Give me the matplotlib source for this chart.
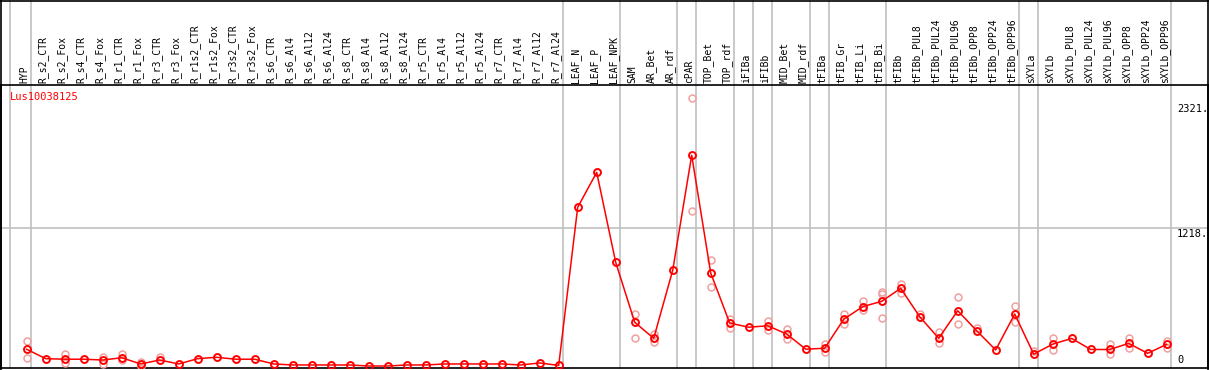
import matplotlib
matplotlib.use('Agg')
import matplotlib.pyplot as plt
from matplotlib.lines import Line2D

# ── data ────────────────────────────────────────────────────
samples = [
    "HYP", "R_s2_CTR", "R_s2_Fox", "R_s4_CTR", "R_s4_Fox", "R_r1_CTR", "R_r1_Fox",
    "R_r3_CTR", "R_r3_Fox", "R_r1s2_CTR", "R_r1s2_Fox", "R_r3s2_CTR", "R_r3s2_Fox",
    "R_s6_CTR", "R_s6_Al4", "R_s6_Al12", "R_s6_Al24", "R_s8_CTR", "R_s8_Al4",
    "R_s8_Al12", "R_s8_Al24", "R_r5_CTR", "R_r5_Al4", "R_r5_Al12", "R_r5_Al24",
    "R_r7_CTR", "R_r7_Al4", "R_r7_Al12", "R_r7_Al24", "LEAF_N", "LEAF_P", "LEAF_NPK",
    "SAM", "AR_Bet", "AR_rdf", "cPAR", "TOP_Bet", "TOP_rdf", "iFIBa", "iFIBb",
    "MID_Bet", "MID_rdf", "tFIBa", "tFIB_Gr", "tFIB_Li", "tFIB_Bi", "tFIBb",
    "tFIBb_PUL8", "tFIBb_PUL24", "tFIBb_PUL96", "tFIBb_OPP8", "tFIBb_OPP24",
    "tFIBb_OPP96", "sXYLa", "sXYLb", "sXYLb_PUL8", "sXYLb_PUL24", "sXYLb_PUL96",
    "sXYLb_OPP8", "sXYLb_OPP24", "sXYLb_OPP96",
]

mean_expr = [
    148, 65, 60, 60, 53, 73, 18, 53, 18, 65, 77, 60, 60,
    18, 9, 9, 9, 9, 0, 0, 9, 9, 18, 18, 18, 18, 9, 27, 5,
    1404, 1713, 917, 387, 245, 846, 1864, 823, 380, 343, 356,
    283, 149, 157, 413, 525, 572, 687, 436, 245, 489, 312, 142,
    460, 105, 193, 244, 146, 146, 200, 112, 192,
]

# replicate values (only those visible apart from the mean)
replicates = [
    [225, 68], [], [103, 24], [], [82, 18], [103, 50], [38, 0],
    [77], [], [], [], [], [],
    [], [], [], [], [], [], [], [], [], [], [], [], [], [], [], [],
    [], [], [], [457, 245], [283, 215], [], [2368, 1371], [935, 699], [420, 339], [], [398, 318],
    [325, 236], [], [192, 121], [460, 369], [575, 495], [652, 634, 422], [725, 643],
    [460], [298, 201], [608, 369], [333], [], [531, 392],
    [133], [248, 138], [], [], [195, 103], [250, 155], [], [225, 157],
]

group_ends = [0, 28, 31, 34, 35, 37, 38, 39, 41, 42, 45, 52, 53, 60]
y_ticks = [0, 1218, 2321]

# ── figure ──────────────────────────────────────────────────
W, H = 1209, 370
fig = plt.figure(figsize=(W / 100, H / 100), dpi=100)
ax_left, ax_right, ax_top, ax_bot = 1, 1208, 85, 368
ax = fig.add_axes([ax_left / W, (H - ax_bot) / H,
                   (ax_right - ax_left) / W, (ax_bot - ax_top) / H])

x0, dx = 26.7, 19.0
ax.set_xlim((ax_left - x0) / dx, (ax_right - x0) / dx)
y_zero, y_scale = 366.0, 0.11305
ax.set_ylim((y_zero - ax_bot) / y_scale, (y_zero - ax_top) / y_scale)
ax.set_xticks([])
ax.set_yticks([])
for s in ax.spines.values():
    s.set_color('black')
    s.set_linewidth(1.2)

grey = '#c0c0c0'
ext = 1 + ax_top / (ax_bot - ax_top)
seps = [-0.88] + [g + 0.2 for g in group_ends]
for xs in seps:
    ax.plot([xs, xs], [0, ext], color=grey, lw=1.2, clip_on=False,
            transform=ax.get_xaxis_transform(), zorder=1)
ax.axhline(1218, color=grey, lw=1.2, zorder=1)

# replicates
rx, ry = [], []
for i, reps in enumerate(replicates):
    rx += [i] * len(reps)
    ry += reps
ax.plot(rx, ry, 'o', ms=5, mfc='none', mec='#f0a0a0', mew=1.1, zorder=3)

xs = list(range(len(samples)))
ax.plot(xs, mean_expr, '-', color='red', lw=1.1, zorder=4)
ax.plot(xs, mean_expr, 'o', ms=5, mfc='none', mec='red', mew=1.4, zorder=5)

mono = 'DejaVu Sans Mono'
for i, name in enumerate(samples):
    ax.text(i - 0.12, 1.0 + 2 / (ax_bot - ax_top), name,
            transform=ax.get_xaxis_transform(), rotation=90,
            ha='center', va='bottom', fontsize=7, family=mono, clip_on=False)

ax.text(9 / (ax_right - ax_left), 1 - 7 / (ax_bot - ax_top), "Lus10038125",
        transform=ax.transAxes, color='red', fontsize=7.5, family=mono,
        ha='left', va='top')

lab_x = (1177 - ax_left) / (ax_right - ax_left)
for v in y_ticks:
    txt = "0" if v == 0 else f"{v}."
    if v == 0:
        ax.text(lab_x, v + 8, txt, transform=ax.get_yaxis_transform(),
                fontsize=7.5, family=mono, ha='left', va='bottom')
    else:
        ax.text(lab_x, v - 5, txt, transform=ax.get_yaxis_transform(),
                fontsize=7.5, family=mono, ha='left', va='top')

# outer frame of the picture
fig.add_artist(Line2D([0, 1], [1 - 0.5 / H, 1 - 0.5 / H], color='black', lw=1.2))
fig.add_artist(Line2D([0.8 / W, 0.8 / W], [0, 1], color='black', lw=1.2))
fig.add_artist(Line2D([1 - 1.2 / W, 1 - 1.2 / W], [0, 1], color='black', lw=1.2))

fig.savefig('out.png', dpi=100, facecolor='white')
